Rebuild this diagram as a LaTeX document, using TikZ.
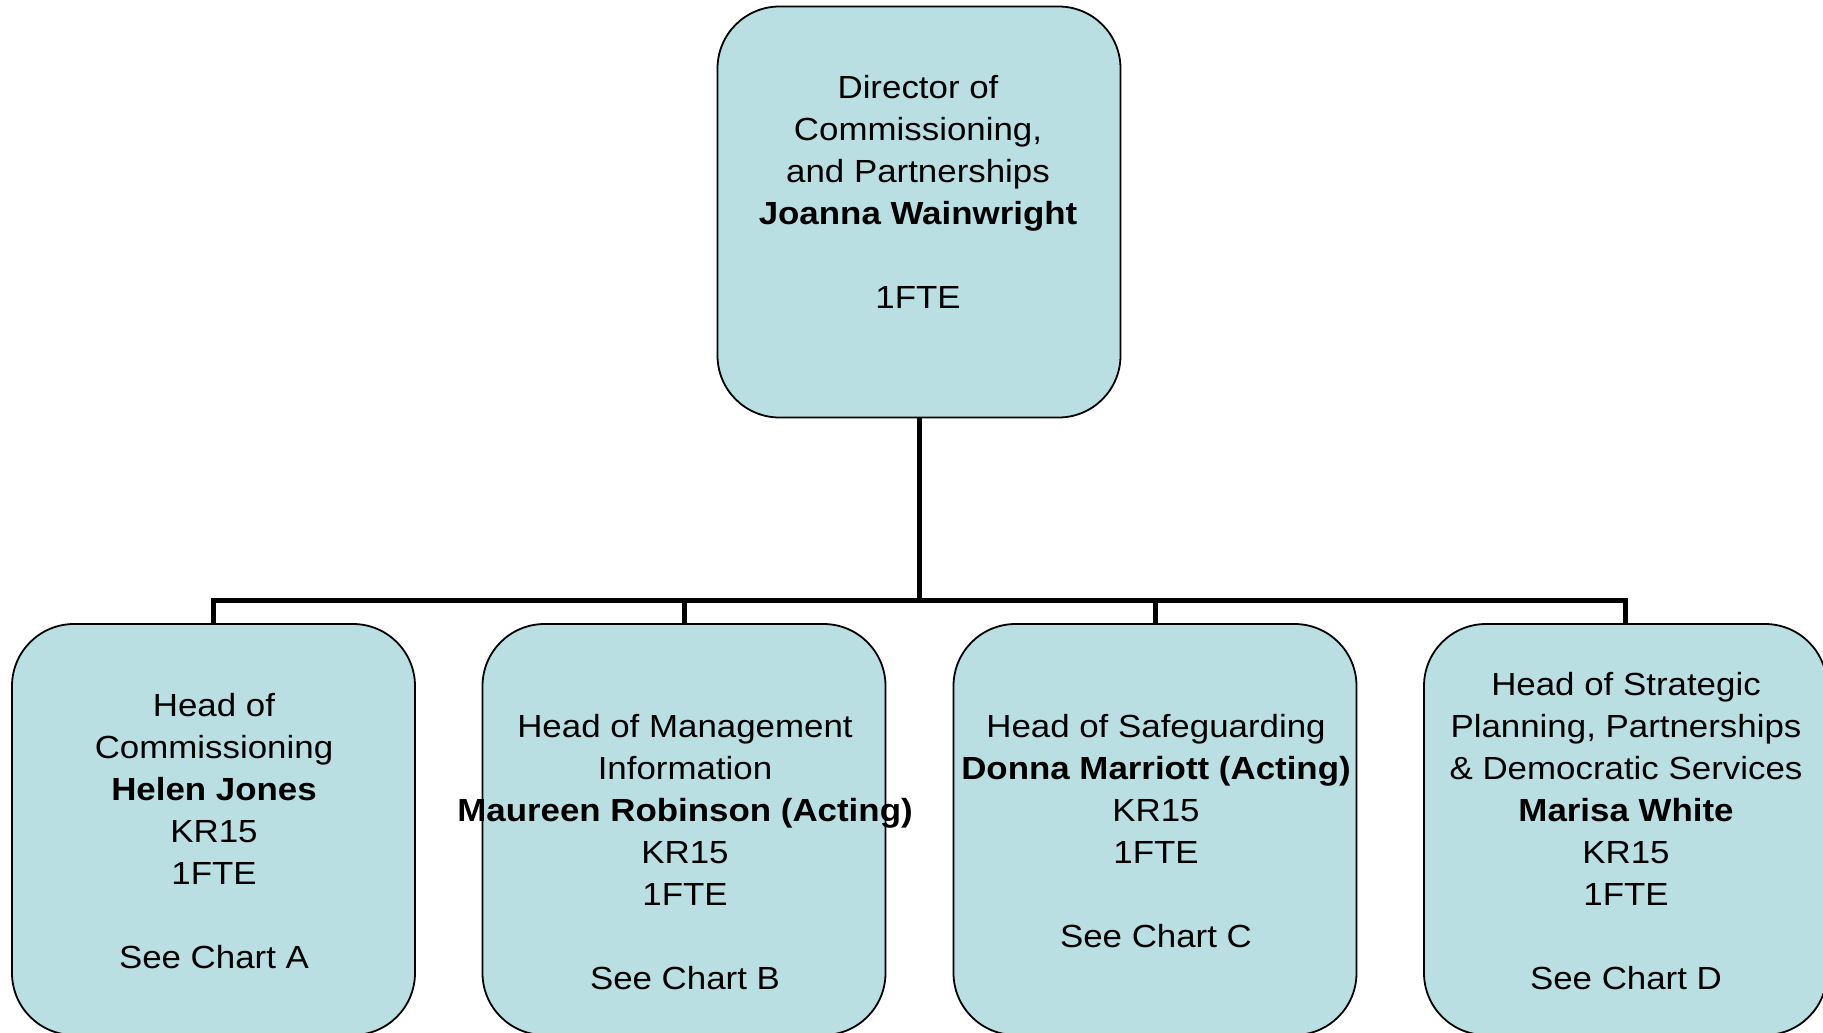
\documentclass[tikz,border=0pt]{standalone}
\usepackage{fontspec}
\setmainfont[FakeStretch=1.09]{Liberation Sans}
\definecolor{boxfill}{RGB}{185,223,227}
\begin{document}
\begin{tikzpicture}[x=1pt,y=-1pt,
  box/.style={draw=black,line width=1.8pt,fill=boxfill,rounded corners=62pt,
    minimum width=403pt,minimum height=411pt,inner sep=0pt},
  txt/.style={align=center,font=\fontsize{32}{42}\selectfont,inner sep=0pt},
  conn/.style={draw=black,line width=5pt}]
\useasboundingbox (0,0) rectangle (1823,1033);
\clip (0,0) rectangle (1823,1033);
\node[box] (top) at (919,212) {};
\node[box] (b1) at (213.5,829.5) {};
\node[box] (b2) at (684,829.5) {};
\node[box] (b3) at (1155,829.5) {};
\node[box] (b4) at (1625.5,829.5) {};
\coordinate (bus) at (0,600);
\draw[conn] (top.south) -- (top.south |- bus);
\draw[conn] ([xshift=-2.5pt]b1.north |- bus) -- ([xshift=2.5pt]b4.north |- bus);
\foreach \b in {b1,b2,b3,b4}{\draw[conn] (\b.north |- bus) -- (\b.north);}
\node[txt] (t0) at (918,192) {Director of\\Commissioning,\\and Partnerships\\\textbf{Joanna Wainwright}\\[42pt]1FTE};
\node[txt] (t1) at (214,831) {Head of\\Commissioning\\\textbf{Helen Jones}\\KR15\\1FTE\\[42pt]See Chart A};
\node[txt] (t2) at (685,852) {Head of Management\\Information\\\textbf{Maureen Robinson (Acting)}\\KR15\\1FTE\\[42pt]See Chart B};
\node[txt] (t3) at (1156,831) {Head of Safeguarding\\\textbf{Donna Marriott (Acting)}\\KR15\\1FTE\\[42pt]See Chart C};
\node[txt] (t4) at (1626,831) {Head of Strategic\\Planning, Partnerships\\\& Democratic Services\\\textbf{Marisa White}\\KR15\\1FTE\\[42pt]See Chart D};
\end{tikzpicture}
\end{document}
